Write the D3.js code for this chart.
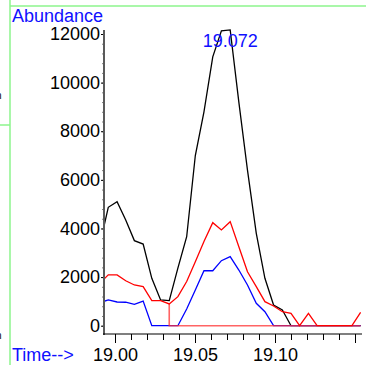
<!DOCTYPE html>
<html>
<head>
<meta charset="utf-8">
<script src="https://cdn.jsdelivr.net/npm/d3@7"></script>
<style>
  body { margin: 0; background: #fff; }
  svg { display: block; font-family: "Liberation Sans", Arial, sans-serif; }
</style>
</head>
<body>
<div id="chart"></div>
<script>
// scan times (min) and abundances of the three traces
var times = [18.9904, 18.9958, 19.0013, 19.0067, 19.0121, 19.0176, 19.0230, 19.0285,
             19.0339, 19.0393, 19.0448, 19.0502, 19.0556, 19.0611, 19.0665, 19.0720,
             19.0774, 19.0828, 19.0883, 19.0937, 19.0991, 19.1046, 19.1100, 19.1154,
             19.1209, 19.1263, 19.1318, 19.1372, 19.1426, 19.1481, 19.1535];
var black = [3300, 4870, 5100, 4350, 3500, 3360, 1950, 1060, 1030, 2370, 3660, 7000,
             8800, 11060, 12130, 12170, 9200, 6400, 3800, 1950, 850, 650, 0, 0,
             0, 0, 0, 0, 0, 0, 0];
var red   = [1750, 2090, 2090, 1850, 1675, 1605, 1030, 1030, 895, 1195, 1820, 2630,
             3460, 4240, 3940, 4280, 3250, 2220, 1605, 990, 810, 575, 510, 0,
             510, 0, 0, 0, 0, 0, 550];
var blue  = [950, 1060, 975, 965, 880, 1015, 0, 0, 0, 0, 690, 1470,
             2260, 2260, 2675, 2840, 2290, 1675, 920, 575, 0, 0, 0, 0,
             0, 0, 0, 0, 0, 0, 0];
var yTicks = [0, 2000, 4000, 6000, 8000, 10000, 12000];
var xLabels = [19.00, 19.05, 19.10];
var baseStart = 8;       // red trace drop to baseline
var peakIndex = 15;      // labelled apex
var xDomain = [18.993125, 19.154375];
var yDomain = [0, 12000];

var W = 366, H = 365;
var svg = d3.select('#chart').append('svg')
            .attr('width', W).attr('height', H);
svg.append('rect').attr('width', W).attr('height', H).attr('fill', '#fff');

// frame from the neighbouring panels
var green = '#8cf58c';
svg.append('line').attr('x1', 10).attr('x2', W).attr('y1', 6).attr('y2', 6)
   .attr('stroke', green).attr('stroke-width', 1.5);
svg.append('line').attr('x1', 10).attr('x2', 10).attr('y1', 0).attr('y2', H)
   .attr('stroke', green).attr('stroke-width', 1.5);
svg.append('line').attr('x1', 0).attr('x2', 10).attr('y1', 125).attr('y2', 125)
   .attr('stroke', green).attr('stroke-width', 1.5);
svg.append('text').attr('x', -4).attr('y', 99).attr('font-size', 10).text('n');
svg.append('text').attr('x', -4).attr('y', 339).attr('font-size', 10).text('n');

var x = d3.scaleLinear().domain(xDomain).range([104, 362]);
var y = d3.scaleLinear().domain(yDomain).range([325.7, 34]);

// y axis
var yAxis = d3.axisLeft(y).tickValues(yTicks).tickSize(3).tickPadding(1)
              .tickFormat(d3.format('d'));
var gy = svg.append('g').attr('transform', 'translate(104,0)').call(yAxis);
gy.select('.domain').remove();
gy.selectAll('text').attr('font-size', 18).attr('fill', '#000')
  .attr('font-family', '"Liberation Sans", Arial, sans-serif');
var gyMinor = svg.append('g').attr('transform', 'translate(104,0)')
   .call(d3.axisLeft(y).tickValues(d3.range(0, 12001, 400)).tickSize(1.5).tickFormat(''));
gyMinor.select('.domain').remove();
svg.append('line').attr('x1', 104).attr('x2', 104).attr('y1', 30).attr('y2', 335)
   .attr('stroke', '#5a5a5a').attr('stroke-width', 2);

// x axis
var xMinor = d3.range(0, 16).map(function(i){ return +(19 + i*0.01).toFixed(2); });
var gxMinor = svg.append('g').attr('transform', 'translate(0,334)')
   .call(d3.axisBottom(x).tickValues(xMinor).tickSize(6).tickFormat(''));
gxMinor.select('.domain').remove();
var gx = svg.append('g').attr('transform', 'translate(0,334)')
   .call(d3.axisBottom(x).tickValues([19.00, 19.05, 19.10, 19.15]).tickSize(9).tickPadding(5)
         .tickFormat(function(d){ return xLabels.indexOf(d) >= 0 ? d3.format('.2f')(d) : ''; }));
gx.select('.domain').remove();
gx.selectAll('text').attr('font-size', 18).attr('fill', '#000')
  .attr('font-family', '"Liberation Sans", Arial, sans-serif');
svg.append('line').attr('x1', 103).attr('x2', 362).attr('y1', 334).attr('y2', 334)
   .attr('stroke', '#000').attr('stroke-width', 1.2);

// traces
svg.append('clipPath').attr('id', 'plot').append('rect')
   .attr('x', 105).attr('y', 0).attr('width', 262).attr('height', 334);
var plot = svg.append('g').attr('clip-path', 'url(#plot)');
var line = d3.line().x(function(d){ return x(d[0]); }).y(function(d){ return y(d[1]); });
function pts(vals){ return times.map(function(t, i){ return [t, vals[i]]; }); }

plot.append('path').attr('d', line(pts(black)))
    .attr('fill', 'none').attr('stroke', '#000').attr('stroke-width', 1.3);
plot.append('path').attr('d', line(pts(blue)))
    .attr('fill', 'none').attr('stroke', '#0000ff').attr('stroke-width', 1.3);
var base = [[times[baseStart], red[baseStart]], [times[baseStart], 0], [times[times.length-1], 0]];
plot.append('path').attr('d', line(base))
    .attr('fill', 'none').attr('stroke', '#ff3030').attr('stroke-width', 1.6).attr('opacity', 0.75);
plot.append('path').attr('d', line(pts(red)))
    .attr('fill', 'none').attr('stroke', '#ff0000').attr('stroke-width', 1.3);

// labels
var blueText = '#1010ff';
svg.append('text').attr('x', 12).attr('y', 22).attr('font-size', 18).attr('fill', blueText)
   .text('Abundance');
svg.append('text').attr('x', 12).attr('y', 361).attr('font-size', 18).attr('fill', blueText)
   .text('Time-->');
svg.append('text').attr('x', x(times[peakIndex])).attr('y', 47).attr('font-size', 18)
   .attr('text-anchor', 'middle').attr('fill', blueText)
   .text(times[peakIndex].toFixed(3));
</script>
</body>
</html>
